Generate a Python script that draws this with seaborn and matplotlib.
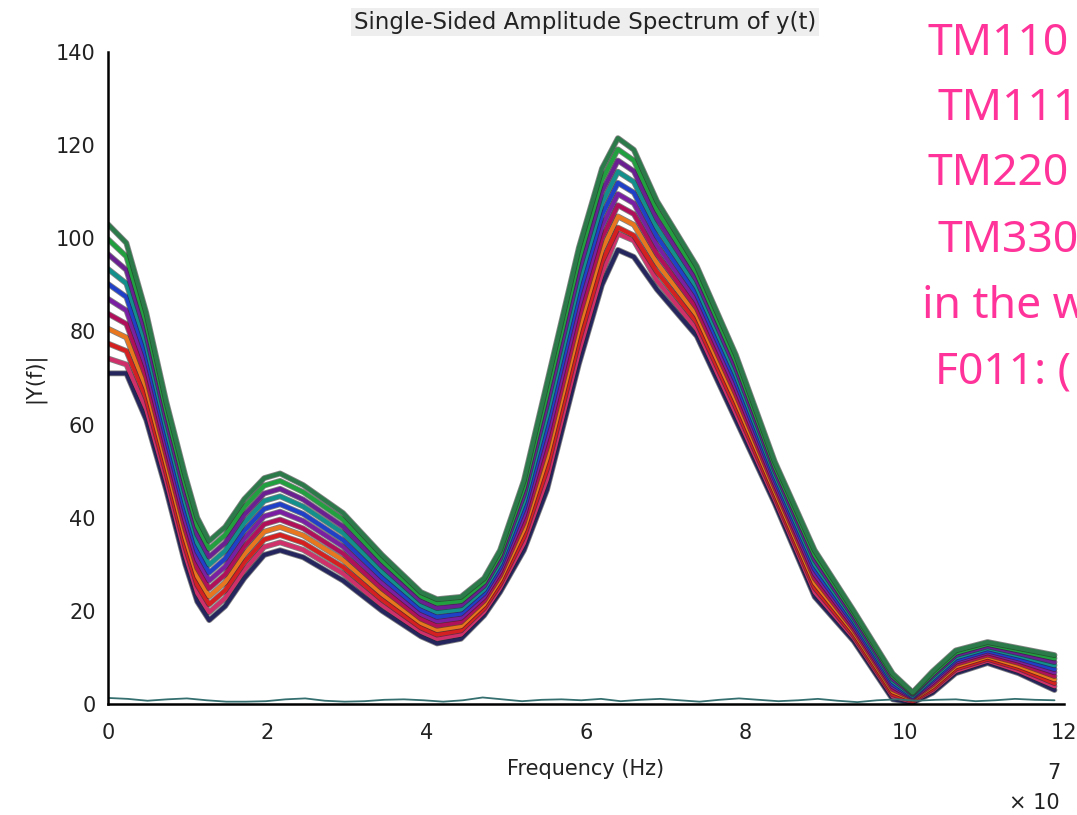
import numpy as np
import pandas as pd
import matplotlib
matplotlib.use("Agg")
import matplotlib.pyplot as plt
import matplotlib.patheffects as pe
import seaborn as sns

sns.set_theme(style="white")
plt.rcParams["font.family"] = ["DejaVu Sans"]

# ---------------- data ----------------
freq = [0, 0.23, 0.48, 0.73, 0.97, 1.12, 1.27, 1.47, 1.71, 1.96, 2.16, 2.45, 2.95,
        3.44, 3.93, 4.13, 4.43, 4.72, 4.92, 5.22, 5.51, 5.91, 6.2, 6.4, 6.6, 6.89,
        7.39, 7.88, 8.37, 8.87, 9.36, 9.85, 10.1, 10.35, 10.64, 11.04, 11.43, 11.88]

amp_01 = [71, 71, 61, 46, 30, 22, 18, 21, 27, 32, 33, 31.5, 26.5, 20, 14.5, 13, 14, 19, 24, 33,
          46, 73, 90, 97.5, 96, 89, 79, 61, 43, 23, 13.5, 1.0, 0.3, 2.4, 6.6, 8.8, 6.6, 3.0]
amp_02 = [74.2, 72.9, 63.3, 47.9, 31.9, 23.8, 19.7, 22.7, 28.7, 33.7, 34.7, 33.1, 28.0, 21.2, 15.5,
          14.0, 14.9, 19.8, 24.9, 34.5, 48.3, 75.5, 92.5, 101, 99.5, 90.9, 80.5, 62.4, 43.9, 24.0,
          14.2, 1.6, 0.5, 2.9, 7.1, 9.3, 7.1, 3.8]
amp_03 = [77.4, 75.8, 65.6, 49.8, 33.8, 25.6, 21.4, 24.4, 30.4, 35.3, 36.3, 34.6, 29.4, 22.4, 16.4,
          14.9, 15.8, 20.6, 25.8, 36.0, 50.6, 78.0, 95.0, 102.3, 100.6, 92.8, 82.0, 63.8, 44.8, 25.0,
          14.8, 2.1, 0.7, 3.3, 7.6, 9.7, 7.7, 4.5]
amp_04 = [80.6, 78.7, 67.9, 51.7, 35.7, 27.4, 23.1, 26.1, 32.1, 37.0, 38.0, 36.2, 30.9, 23.6, 17.4,
          15.9, 16.7, 21.4, 26.7, 37.5, 52.9, 80.5, 97.5, 104.7, 102.9, 94.7, 83.5, 65.2, 45.7, 26.0,
          15.5, 2.7, 1.0, 3.8, 8.1, 10.2, 8.2, 5.3]
amp_05 = [83.8, 81.6, 70.2, 53.6, 37.6, 29.2, 24.8, 27.8, 33.8, 38.6, 39.6, 37.7, 32.3, 24.8, 18.3,
          16.8, 17.6, 22.2, 27.6, 39.0, 55.2, 83.0, 100.0, 107.1, 105.2, 96.6, 85.0, 66.6, 46.6, 27.0,
          16.1, 3.2, 1.2, 4.2, 8.6, 10.6, 8.8, 6.0]
amp_06 = [87.0, 84.5, 72.5, 55.5, 39.5, 31.0, 26.5, 29.5, 35.5, 40.3, 41.3, 39.3, 33.8, 26.0, 19.3,
          17.8, 18.5, 23.0, 28.5, 40.5, 57.5, 85.5, 102.5, 109.5, 107.5, 98.5, 86.5, 68.0, 47.5, 28.0,
          16.8, 3.8, 1.4, 4.7, 9.1, 11.1, 9.3, 6.8]
amp_07 = [90.2, 87.4, 74.8, 57.4, 41.4, 32.8, 28.2, 31.2, 37.2, 41.9, 42.9, 40.8, 35.2, 27.2, 20.2,
          18.7, 19.4, 23.8, 29.4, 42.0, 59.8, 88.0, 105.0, 111.9, 109.8, 100.4, 88.0, 69.4, 48.4, 29.0,
          17.4, 4.3, 1.6, 5.2, 9.5, 11.5, 9.8, 7.5]
amp_08 = [93.4, 90.3, 77.1, 59.3, 43.3, 34.6, 29.9, 32.9, 38.9, 43.6, 44.6, 42.4, 36.7, 28.4, 21.2,
          19.7, 20.3, 24.6, 30.3, 43.5, 62.1, 90.5, 107.5, 114.3, 112.1, 102.3, 89.5, 70.8, 49.3, 30.0,
          18.1, 4.9, 1.8, 5.6, 10.0, 12.0, 10.4, 8.3]
amp_09 = [96.6, 93.2, 79.4, 61.2, 45.2, 36.4, 31.6, 34.6, 40.6, 45.2, 46.2, 43.9, 38.1, 29.6, 22.1,
          20.6, 21.2, 25.4, 31.2, 45.0, 64.4, 93.0, 110.0, 116.7, 114.4, 104.2, 91.0, 72.2, 50.2, 31.0,
          18.7, 5.4, 2.1, 6.1, 10.5, 12.4, 10.9, 9.0]
amp_10 = [99.8, 96.1, 81.7, 63.1, 47.1, 38.2, 33.3, 36.3, 42.3, 46.9, 47.9, 45.5, 39.6, 30.8, 23.1,
          21.6, 22.1, 26.2, 32.1, 46.5, 66.7, 95.5, 112.5, 119.1, 116.7, 106.1, 92.5, 73.6, 51.1, 32.0,
          19.4, 6.0, 2.3, 6.5, 11.0, 12.9, 11.5, 9.8]
amp_11 = [103, 99, 84, 65, 49, 40, 35, 38, 44, 48.5, 49.5, 47, 41, 32, 24, 22.5, 23, 27, 33, 48,
          69, 98, 115, 121.5, 119, 108, 94, 75, 52, 33, 20, 6.5, 2.5, 7, 11.5, 13.3, 12, 10.5]

traces = [amp_01, amp_02, amp_03, amp_04, amp_05, amp_06,
          amp_07, amp_08, amp_09, amp_10, amp_11]
trace_names = ["t01", "t02", "t03", "t04", "t05", "t06", "t07", "t08", "t09", "t10", "t11"]
trace_colors = ["#26265e", "#d0306a", "#d42020", "#e8761e", "#b0105a", "#7a1fa2",
                "#2040c8", "#13908c", "#6a2090", "#22a040", "#2c7a4a"]

noise_amp = [1.3, 1.1, 0.7, 1.0, 1.2, 0.8, 0.5, 0.5, 0.6, 1.0, 1.2, 0.7, 0.5, 0.6, 0.9, 1.0,
             0.8, 0.5, 0.8, 1.4, 1.0, 0.6, 0.9, 1.0, 0.8, 1.1, 0.6, 0.9, 1.1, 0.8, 0.5, 0.9,
             1.2, 0.9, 0.6, 0.8, 1.1, 0.7, 0.4, 0.8, 1.0, 0.7, 0.9, 1.0, 0.6, 0.8, 1.1, 0.9, 0.8]
noise_freq = np.linspace(0, 11.88, len(noise_amp))

overlay_lines = ["TM110", "TM111", "TM220", "TM330", "in the w", "F011: ("]

# ---------------- figure ----------------
fig = plt.figure(figsize=(10.77, 8.15), dpi=100)
ax = fig.add_axes([0.1003, 0.1362, 0.8877, 0.8])

df = pd.DataFrame({
    "freq": np.concatenate([freq] * len(traces)),
    "amp": np.concatenate(traces),
    "trace": np.repeat(trace_names, len(freq)),
})
sns.lineplot(data=df, x="freq", y="amp", hue="trace", palette=trace_colors,
             estimator=None, sort=False, linewidth=3.0, legend=False, ax=ax)
for ln in ax.lines:
    ln.set_solid_joinstyle("round")
    ln.set_path_effects([pe.Stroke(linewidth=4.2, foreground="#202020", alpha=0.55), pe.Normal()])

sns.lineplot(x=noise_freq, y=noise_amp, color="#356f6f", linewidth=1.3, ax=ax)

ax.set_xlim(0, 12)
ax.set_ylim(0, 140)
ax.set_xticks(range(0, 13, 2))
ax.set_yticks(range(0, 141, 20))
for s in ["top", "right"]:
    ax.spines[s].set_visible(False)
for s in ["left", "bottom"]:
    ax.spines[s].set_color("black")
    ax.spines[s].set_linewidth(1.8)
ax.tick_params(axis="both", direction="in", length=7, width=1.5, colors="black",
               labelsize=15, labelcolor="#222222")
ax.tick_params(axis="x", pad=14)
ax.tick_params(axis="y", pad=9)
ax.grid(False)

ax.set_xlabel("Frequency (Hz)", fontsize=15, color="#222222")
ax.xaxis.set_label_coords(0.5, -0.085)
ax.set_ylabel("|Y(f)|", fontsize=15, color="#222222")
ax.yaxis.set_label_coords(-0.066, 0.5)

fig.text(0.5435, 0.973, "Single-Sided Amplitude Spectrum of y(t)", ha="center", va="center",
         fontsize=16.5, color="#222222",
         bbox=dict(facecolor="#eeeeee", edgecolor="none", pad=2))

fig.text(0.960, 0.0147, "× 10", ha="center", va="center", fontsize=15, color="#222222")
fig.text(0.9785, 0.0515, "7", ha="center", va="center", fontsize=15, color="#222222")

pink = "#ff3399"
xs = [927, 937, 927, 937, 922, 935]
ys = [55, 120, 185, 252, 318, 384]
for txt, xp, yp in zip(overlay_lines, xs, ys):
    fig.text(xp / 1077, 1 - yp / 815, txt, ha="left", va="baseline", fontsize=32,
             color=pink, family=["Noto Sans", "DejaVu Sans"])

fig.savefig("out.png", dpi=100)
